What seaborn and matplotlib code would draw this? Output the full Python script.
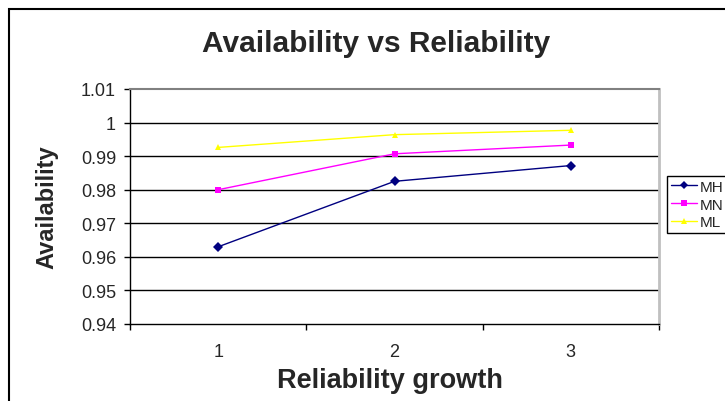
import numpy as np
import pandas as pd
import matplotlib
matplotlib.use("Agg")
import matplotlib.pyplot as plt
import seaborn as sns
from matplotlib.patches import Rectangle

# Reliability-growth steps and availability of each model
growth = [1, 2, 3]
series = ["MH", "MN", "ML"]
mh = [0.9630, 0.9825, 0.9872]
mn = [0.9800, 0.9907, 0.9933]
ml = [0.9926, 0.9964, 0.9977]
y_ticks = [0.94, 0.95, 0.96, 0.97, 0.98, 0.99, 1.00, 1.01]
y_labels = ["0.94", "0.95", "0.96", "0.97", "0.98", "0.99", "1", "1.01"]
x_labels = ["1", "2", "3"]

sns.set_style("white")
plt.rcParams["font.family"] = ["Liberation Sans", "DejaVu Sans"]

df = pd.DataFrame({
    "growth": growth * 3,
    "availability": mh + mn + ml,
    "series": np.repeat(series, len(growth)),
})

W, H = 725, 402
fig = plt.figure(figsize=(W / 100, H / 100), dpi=100)
fig.patch.set_facecolor("white")
ax = fig.add_axes([130 / W, 1 - 325 / H, 529 / W, 235 / H])

palette = {"MH": "#000080", "MN": "#FF00FF", "ML": "#FFFF00"}
markers = {"MH": "D", "MN": "s", "ML": "^"}
sns.lineplot(data=df, x="growth", y="availability", hue="series", style="series",
             hue_order=series, style_order=series, palette=palette, markers=markers,
             dashes=False, linewidth=1.0, markersize=5, markeredgewidth=0, ax=ax)

# axes limits and ticks
ax.set_xlim(0.5, 3.5)
ax.set_xticks([0.5, 1.5, 2.5, 3.5])
ax.set_xticklabels([])
ax.set_xticks(growth, minor=True)
ax.set_xticklabels(x_labels, minor=True)
ax.tick_params(axis="x", which="major", direction="out", length=4, width=1, color="black")
ax.tick_params(axis="x", which="minor", length=0, pad=14, labelsize=13)
ax.set_ylim(0.94, 1.01)
ax.set_yticks(y_ticks)
ax.set_yticklabels(y_labels)
ax.tick_params(axis="y", direction="out", length=4, width=1, color="black", labelsize=13, pad=6)
ax.tick_params(left=True, bottom=True)
ax.set_xlabel("")
ax.set_ylabel("")

# horizontal gridlines
ax.set_axisbelow(True)
ax.yaxis.grid(True, color="black", linewidth=1.0)
ax.get_ygridlines()[-1].set_visible(False)
ax.get_ygridlines()[0].set_visible(False)

for side in ["left", "bottom"]:
    ax.spines[side].set_color("black")
    ax.spines[side].set_linewidth(1.0)
ax.spines["top"].set_color("#808080")
ax.spines["top"].set_linewidth(1.5)
ax.spines["right"].set_color("#C0C0C0")
ax.spines["right"].set_linewidth(2.0)

# legend
handles, labels = ax.get_legend_handles_labels()
leg = ax.legend(handles, labels, loc="upper left",
                bbox_to_anchor=(667 / W, 1 - 177 / H), bbox_transform=fig.transFigure,
                frameon=True, fancybox=False, edgecolor="black", framealpha=1,
                fontsize=11, handlelength=1.7, borderpad=0.25, labelspacing=0.25,
                handletextpad=0.2, borderaxespad=0)
leg.get_frame().set_linewidth(1.0)
for h in leg.legend_handles:
    h.set_markersize(4)

# titles
fig.text(376 / W, 1 - 44 / H, "Availability vs Reliability", ha="center", va="center",
         fontsize=21.5, fontweight="bold")
fig.text(390 / W, 1 - 381 / H, "Reliability growth", ha="center", va="center",
         fontsize=19.5, fontweight="bold")
fig.text(47 / W, 1 - 207 / H, "Availability", ha="center", va="center",
         rotation=90, fontsize=17, fontweight="bold")

# outer chart frame
fig.add_artist(Rectangle((8.5 / W, -0.2), 1.5, 1.2 - 9.5 / H, transform=fig.transFigure,
                         fill=False, edgecolor="black", linewidth=1.5))

fig.savefig("out.png", dpi=100)
